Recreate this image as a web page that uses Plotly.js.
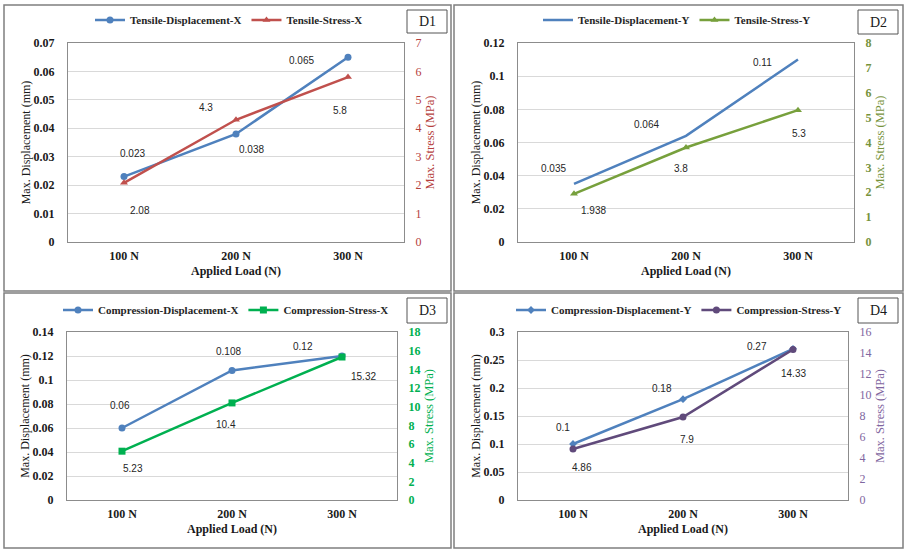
<!DOCTYPE html>
<html>
<head>
<meta charset="utf-8">
<script src="https://cdn.plot.ly/plotly-3.0.1.min.js"></script>
<style>html,body{margin:0;padding:0;background:#fff;}#chart{width:908px;height:553px;}</style>
</head>
<body>
<div id="chart"></div>
<script>
// ---- data ----
const categories = ['100 N', '200 N', '300 N'];
const d1Displacement = [0.023, 0.038, 0.065];
const d1Stress = [2.08, 4.3, 5.8];
const d2Displacement = [0.035, 0.064, 0.11];
const d2Stress = [1.938, 3.8, 5.3];
const d3Displacement = [0.06, 0.108, 0.12];
const d3Stress = [5.23, 10.4, 15.32];
const d4Displacement = [0.1, 0.18, 0.27];
const d4Stress = [4.86, 7.9, 14.33];
const seriesNames = ['Tensile-Displacement-X', 'Tensile-Stress-X', 'Tensile-Displacement-Y', 'Tensile-Stress-Y',
  'Compression-Displacement-X', 'Compression-Stress-X', 'Compression-Displacement-Y', 'Compression-Stress-Y'];
const panelLabels = ['D1', 'D2', 'D3', 'D4'];

// ---- styling ----
const W = 908, H = 553;
const SERIF = '"Liberation Serif", "Times New Roman", serif';
const SANS = '"Liberation Sans", Arial, sans-serif';
const BLUE = '#4F81BD';
const fx = p => p / W;
const fy = p => 1 - p / H;

const panels = [
  {disp: d1Displacement, stress: d1Stress, names: [seriesNames[0], seriesNames[1]],
   px: [68, 404], py: [43, 242], dRange: [0, 0.07], dDtick: 0.01, sRange: [0, 7], sDtick: 1,
   dMarker: {symbol: 'circle', size: 7}, sColor: '#C0504D', sAxisColor: '#B5403D', sMarker: {symbol: 'triangle-up', size: 7},
   sBold: false, legendX: 90, legendY: 20, box: [4, 451, 5, 291], lbl: [407, 447, 10, 33],
   dOff: [[8, -23], [15, 16], [-47, 3]], sOff: [[16, 28], [-30, -12], [-8, 33]]},
  {disp: d2Displacement, stress: d2Stress, names: [seriesNames[2], seriesNames[3]],
   px: [518, 854], py: [43, 242], dRange: [0, 0.12], dDtick: 0.02, sRange: [0, 8], sDtick: 1,
   dMarker: null, sColor: '#77A03C', sAxisColor: '#77933C', sMarker: {symbol: 'triangle-up', size: 7},
   sBold: true, legendX: 538, legendY: 20, box: [454, 903, 5, 291], lbl: [858, 898, 10, 34],
   dOff: [[-21, -15], [-40, -11], [-36, 3]], sOff: [[19, 17], [-5, 21], [1, 23]]},
  {disp: d3Displacement, stress: d3Stress, names: [seriesNames[4], seriesNames[5]],
   px: [67, 397], py: [332, 500], dRange: [0, 0.14], dDtick: 0.02, sRange: [0, 18], sDtick: 2,
   dMarker: {symbol: 'circle', size: 7}, sColor: '#00B050', sAxisColor: '#00B050', sMarker: {symbol: 'square', size: 7},
   sBold: true, legendX: 58, legendY: 310, box: [4, 451, 293, 548], lbl: [407, 447, 298, 323],
   dOff: [[-2, -23], [-4, -19], [-39, -10]], sOff: [[11, 17], [-6, 22], [21, 19]]},
  {disp: d4Displacement, stress: d4Stress, names: [seriesNames[6], seriesNames[7]],
   px: [518, 848], py: [332, 500], dRange: [0, 0.3], dDtick: 0.05, sRange: [0, 16], sDtick: 2,
   dMarker: {symbol: 'diamond', size: 6}, sColor: '#604A7B', sAxisColor: '#7F66A0', sMarker: {symbol: 'circle', size: 7},
   sBold: false, legendX: 511, legendY: 310, box: [454, 903, 293, 548], lbl: [858, 898, 298, 323],
   dOff: [[-10, -17], [-21, -11], [-36, -2]], sOff: [[9, 19], [4, 22], [0, 24]]}
];

const traces = [];
const layout = {
  width: W, height: H,
  margin: {l: 0, r: 0, t: 0, b: 0},
  paper_bgcolor: '#ffffff', plot_bgcolor: '#ffffff',
  showlegend: true,
  annotations: [], shapes: []
};

panels.forEach((p, i) => {
  const n = i + 1;
  const xa = n === 1 ? 'x' : 'x' + n;
  const yl = 'y' + (2 * i + 1 === 1 ? '' : 2 * i + 1);
  const yr = 'y' + (2 * i + 2);
  const xKey = 'xaxis' + (n === 1 ? '' : n);
  const ylKey = 'yaxis' + (2 * i + 1 === 1 ? '' : 2 * i + 1);
  const yrKey = 'yaxis' + (2 * i + 2);
  const legKey = 'legend' + (n === 1 ? '' : n);

  const dTrace = {
    x: categories, y: p.disp, name: p.names[0], xaxis: xa, yaxis: yl, legend: legKey,
    type: 'scatter', mode: p.dMarker ? 'lines+markers' : 'lines',
    line: {color: BLUE, width: 2.5}, hoverinfo: 'none'
  };
  if (p.dMarker) dTrace.marker = Object.assign({color: BLUE}, p.dMarker);
  const sTrace = {
    x: categories, y: p.stress, name: p.names[1], xaxis: xa, yaxis: yr, legend: legKey,
    type: 'scatter', mode: 'lines+markers',
    line: {color: p.sColor, width: 2.5}, marker: Object.assign({color: p.sColor}, p.sMarker), hoverinfo: 'none'
  };
  traces.push(dTrace, sTrace);

  layout[xKey] = {
    domain: [fx(p.px[0]), fx(p.px[1])], anchor: yl, type: 'category', range: [-0.5, 2.5],
    showline: true, mirror: true, linecolor: '#8C8C8C', linewidth: 1, showgrid: false, zeroline: false,
    ticks: '', ticklabelstandoff: 3,
    tickfont: {family: SERIF, size: 12, color: '#1a1a1a', weight: 'bold'},
    title: {text: 'Applied Load (N)', font: {family: SERIF, size: 12, color: '#1a1a1a', weight: 'bold'}, standoff: 4},
    automargin: false, fixedrange: true
  };
  layout[ylKey] = {
    domain: [fy(p.py[1]), fy(p.py[0])], anchor: xa, range: p.dRange, dtick: p.dDtick, tick0: 0,
    showline: true, linecolor: '#8C8C8C', linewidth: 1, showgrid: true, gridcolor: '#D9D9D9', gridwidth: 1, zeroline: false,
    ticks: '', ticklabelstandoff: 10,
    tickfont: {family: SERIF, size: 12, color: '#1a1a1a', weight: 'bold'},
    title: {text: 'Max. Displacement (mm)', font: {family: SERIF, size: 12, color: '#1a1a1a'}, standoff: 0},
    automargin: false, fixedrange: true
  };
  layout[yrKey] = {
    overlaying: yl, side: 'right', anchor: xa, range: p.sRange, dtick: p.sDtick, tick0: 0,
    showline: true, linecolor: '#8C8C8C', linewidth: 1, showgrid: false, zeroline: false,
    ticks: '', ticklabelstandoff: 8,
    tickfont: {family: SERIF, size: 12, color: p.sAxisColor, weight: p.sBold ? 'bold' : 'normal'},
    title: {text: 'Max. Stress (MPa)', font: {family: SERIF, size: 12.5, color: p.sAxisColor}, standoff: 4},
    automargin: false, fixedrange: true
  };
  layout[legKey] = {
    orientation: 'h', x: fx(p.legendX), xanchor: 'left', y: fy(p.legendY), yanchor: 'middle',
    bgcolor: 'rgba(0,0,0,0)', borderwidth: 0, traceorder: 'normal', itemclick: false, itemdoubleclick: false,
    font: {family: SERIF, size: 11, color: '#262626', weight: 'bold'}
  };

  // data labels
  p.disp.forEach((v, k) => {
    layout.annotations.push({x: categories[k], y: v, xref: xa, yref: yl, text: String(v), showarrow: false,
      xshift: p.dOff[k][0], yshift: -p.dOff[k][1], font: {family: SANS, size: 10, color: '#262626'}});
  });
  p.stress.forEach((v, k) => {
    layout.annotations.push({x: categories[k], y: v, xref: xa, yref: yr, text: String(v), showarrow: false,
      xshift: p.sOff[k][0], yshift: -p.sOff[k][1], font: {family: SANS, size: 10, color: '#262626'}});
  });

  // panel box
  layout.shapes.push({type: 'rect', xref: 'paper', yref: 'paper',
    x0: fx(p.box[0]), x1: fx(p.box[1]), y0: fy(p.box[3]), y1: fy(p.box[2]),
    line: {color: '#7F7F7F', width: 1.5}, fillcolor: 'rgba(0,0,0,0)', layer: 'below'});
  // label box
  layout.shapes.push({type: 'rect', xref: 'paper', yref: 'paper',
    x0: fx(p.lbl[0]), x1: fx(p.lbl[1]), y0: fy(p.lbl[3]), y1: fy(p.lbl[2]),
    line: {color: '#555555', width: 1}, fillcolor: '#ffffff'});
  layout.annotations.push({xref: 'paper', yref: 'paper', x: fx((p.lbl[0] + p.lbl[1]) / 2), y: fy((p.lbl[2] + p.lbl[3]) / 2),
    xanchor: 'center', yanchor: 'middle', text: panelLabels[i], showarrow: false,
    font: {family: SERIF, size: 14, color: '#1a1a1a'}});
});

Plotly.newPlot('chart', traces, layout, {staticPlot: true, displayModeBar: false});
</script>
</body>
</html>
